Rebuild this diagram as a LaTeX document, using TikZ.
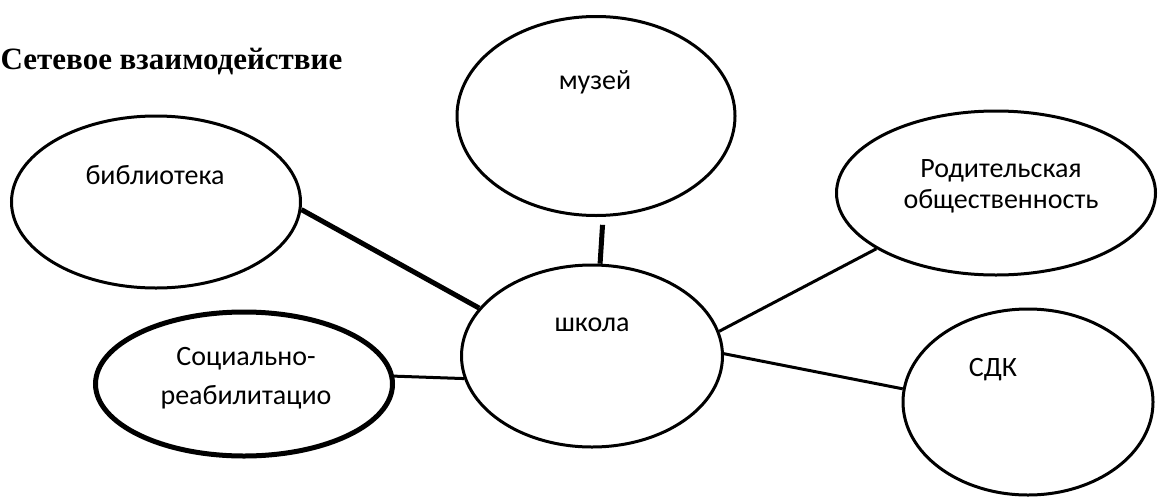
\documentclass[tikz,border=0pt]{standalone}
\usepackage{fontspec}
\setmainfont{Carlito}
\newfontfamily\titlefont{Liberation Serif}
\usetikzlibrary{shapes.geometric}

\begin{document}
\begin{tikzpicture}[x=1pt,y=-1pt,
  oval/.style={ellipse,draw,line width=3pt,inner sep=0pt},
  txt/.style={font=\fontsize{28}{31}\selectfont,align=center,inner sep=0pt},
  link/.style={line width=3pt}]
\useasboundingbox (0,0) rectangle (1158,498);
\node[anchor=west,inner sep=0pt,font=\titlefont\bfseries\fontsize{31}{36}\selectfont] (title) at (0.5,62) {Сетевое взаимодействие};
\node[oval,minimum width=289pt,minimum height=172pt] (bibl) at (156,202) {};
\node[oval,minimum width=278pt,minimum height=199pt] (muzej) at (596,116) {};
\node[oval,minimum width=319pt,minimum height=164pt] (roditel) at (996,193) {};
\node[oval,minimum width=261pt,minimum height=182pt] (shkola) at (592,356) {};
\node[oval,line width=5pt,minimum width=297pt,minimum height=144pt] (socreab) at (244,384) {};
\node[oval,minimum width=250pt,minimum height=186pt] (sdk) at (1028,402) {};
\node[txt] (t-bibl) at (155,175) {библиотека};
\node[txt] (t-muzej) at (595,82) {музей};
\node[txt] (t-roditel) at (1001,186) {Родительская\\общественность};
\node[txt] (t-shkola) at (592,325) {школа};
\node[txt] (t-socreab) at (246,378) {Социально-\\[8pt]реабилитацио};
\node[txt] (t-sdk) at (993,370) {СДК};
\draw[link,line width=5pt] (bibl.-3) -- (shkola.157);
\draw[link,line width=5pt,shorten <=8pt] (muzej.-86) -- (shkola.85);
\draw[link] (roditel.-155) -- (shkola.11);
\draw[link] (shkola.1) -- (sdk.174);
\draw[link] (socreab.3) -- (shkola.190);
\end{tikzpicture}
\end{document}
